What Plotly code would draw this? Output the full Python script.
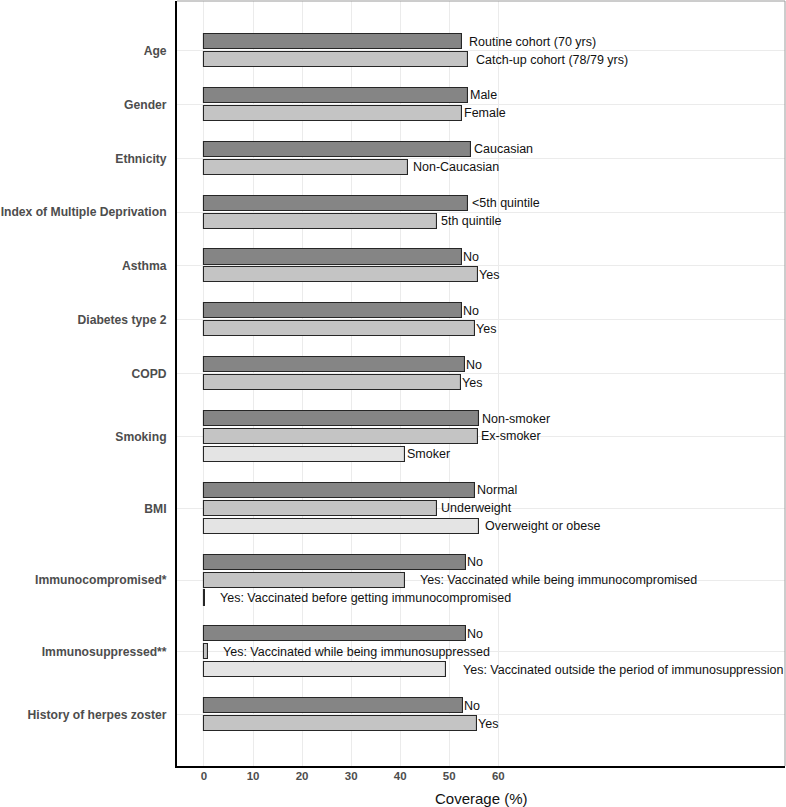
import plotly.graph_objects as go

# ---------------- data ----------------
groups = [
    "Age", "Gender", "Ethnicity", "Index of Multiple Deprivation", "Asthma",
    "Diabetes type 2", "COPD", "Smoking", "BMI", "Immunocompromised*",
    "Immunosuppressed**", "History of herpes zoster",
]
sub_labels = [
    ["Routine cohort (70 yrs)", "Catch-up cohort (78/79 yrs)"],
    ["Male", "Female"],
    ["Caucasian", "Non-Caucasian"],
    ["<5th quintile", "5th quintile"],
    ["No", "Yes"],
    ["No", "Yes"],
    ["No", "Yes"],
    ["Non-smoker", "Ex-smoker", "Smoker"],
    ["Normal", "Underweight", "Overweight or obese"],
    ["No", "Yes: Vaccinated while being immunocompromised",
     "Yes: Vaccinated before getting immunocompromised"],
    ["No", "Yes: Vaccinated while being immunosuppressed",
     "Yes: Vaccinated outside the period of immunosuppression"],
    ["No", "Yes"],
]
coverage = [
    [52.7, 53.8],
    [53.9, 52.6],
    [54.5, 41.6],
    [53.9, 47.6],
    [52.7, 55.9],
    [52.6, 55.3],
    [53.2, 52.3],
    [56.0, 55.9, 41.0],
    [55.3, 47.5, 56.1],
    [53.35, 41.05, 0.2],
    [53.35, 0.9, 49.3],
    [52.9, 55.6],
]
x_ticks = [0, 10, 20, 30, 40, 50, 60]

# ---------------- style ----------------
FONT = "Liberation Sans, Arial, Helvetica, sans-serif"
fills = ["#858585", "#c4c4c4", "#e4e4e4"]
LABEL_SIZE = 12.5

ARIAL = {' ': 278, '(': 333, ')': 333, '*': 389, '/': 278, ':': 278, '<': 584,
         '-': 333, '%': 889, 'A': 667, 'C': 722, 'E': 667, 'F': 611, 'M': 833,
         'N': 722, 'O': 778, 'R': 722, 'S': 667, 'U': 722, 'V': 667, 'Y': 667,
         'a': 556, 'b': 556, 'c': 500, 'd': 556, 'e': 556, 'f': 278, 'g': 556,
         'h': 556, 'i': 222, 'j': 222, 'k': 500, 'l': 222, 'm': 833, 'n': 556,
         'o': 556, 'p': 556, 'q': 556, 'r': 333, 's': 500, 't': 278, 'u': 556,
         'v': 500, 'w': 722, 'x': 500, 'y': 500, 'z': 500}


def text_width(s, size):
    return sum(ARIAL.get(c, 556) for c in s) * size / 1000.0


# slot layout: each group takes n bars + one empty slot
bar_pos = []
centers = []
p = 0
for vals in coverage:
    n = len(vals)
    yy = [p + i for i in range(n)]
    bar_pos.append(yy)
    centers.append(sum(yy) / n)
    p += n + 1

fig = go.Figure()
for k in range(3):
    xs, ys = [], []
    for g, vals in enumerate(coverage):
        if len(vals) > k:
            xs.append(vals[k])
            ys.append(bar_pos[g][k])
    fig.add_trace(go.Bar(
        x=xs, y=ys, orientation="h", width=0.84,
        marker=dict(color=fills[k], line=dict(color="#262626", width=1.1)),
        showlegend=False, hoverinfo="x",
    ))

annotations = []
for g, vals in enumerate(coverage):
    for k, v in enumerate(vals):
        lab = sub_labels[g][k]
        w = text_width(lab, LABEL_SIZE)
        annotations.append(dict(
            x=v, y=bar_pos[g][k], xref="x", yref="y", text=lab,
            showarrow=False, xanchor="left", yanchor="middle",
            xshift=0.053 * w - 1, borderpad=0,
            font=dict(family=FONT, size=LABEL_SIZE, color="#111111"),
        ))

annotations.append(dict(
    x=0.5, y=0, xref="paper", yref="paper", yshift=-32, text="Coverage (%)",
    showarrow=False, xanchor="center", yanchor="middle",
    font=dict(family=FONT, size=15, color="#111111"),
))

fig.update_layout(
    width=786, height=807,
    margin=dict(l=177, r=1, t=1, b=41, autoexpand=False),
    paper_bgcolor="white", plot_bgcolor="white",
    bargap=0, barmode="overlay",
    font=dict(family=FONT),
    annotations=annotations,
    shapes=[
        dict(type="line", xref="paper", yref="paper", x0=0, x1=1, y0=1, y1=1,
             line=dict(color="#9a9a9a", width=1)),
        dict(type="line", xref="paper", yref="paper", x0=1, x1=1, y0=0, y1=1,
             line=dict(color="#9a9a9a", width=1)),
    ],
    xaxis=dict(
        range=[-5.5, 118.45], tickvals=x_ticks, ticktext=[str(t) for t in x_ticks],
        showgrid=True, gridcolor="#ebebeb", gridwidth=1, zeroline=False,
        showline=True, linecolor="#000000", linewidth=2,
        ticks="", ticklabelstandoff=-2,
        tickfont=dict(family=FONT, size=11.5, color="#4d4d4d", weight="bold"),
        automargin=False,
    ),
    yaxis=dict(
        range=[40.36, -2.26], tickvals=centers, ticktext=groups,
        showgrid=True, gridcolor="#ebebeb", gridwidth=1, zeroline=False,
        showline=True, linecolor="#000000", linewidth=2,
        ticks="outside", ticklen=6, tickcolor="rgba(0,0,0,0)",
        tickfont=dict(family=FONT, size=12.15, color="#4d4d4d", weight="bold"),
        automargin=False,
    ),
)

fig.write_html(
    "out.html",
    config={"displayModeBar": False},
    post_script="document.body.style.margin='0px';document.body.style.overflow='hidden';",
)
